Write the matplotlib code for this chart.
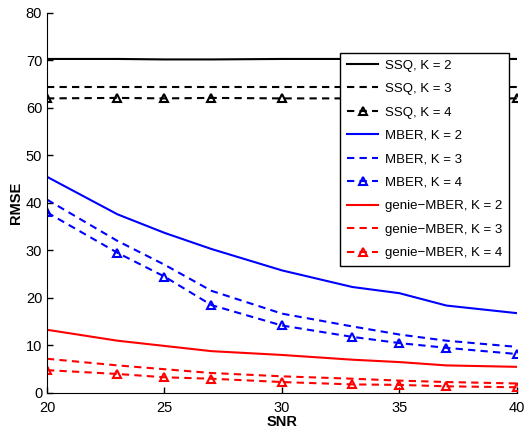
import matplotlib
matplotlib.use("Agg")
import matplotlib.pyplot as plt

plt.rcParams['font.family'] = ['Liberation Sans', 'DejaVu Sans']

snr = [20, 23, 25, 27, 30, 33, 35, 37, 40]

ssq_k2 = [70.3, 70.3, 70.2, 70.2, 70.3, 70.3, 70.3, 70.3, 70.3]
ssq_k3 = [64.5, 64.5, 64.5, 64.5, 64.5, 64.5, 64.5, 64.5, 64.5]
ssq_k4 = [62.0, 62.1, 62.0, 62.1, 62.0, 62.0, 62.0, 62.0, 62.0]

mber_k2 = [45.5, 37.6, 33.7, 30.3, 25.8, 22.3, 21.0, 18.4, 16.8]
mber_k3 = [40.7, 32.0, 27.0, 21.5, 16.7, 14.0, 12.3, 11.0, 9.7]
mber_k4 = [38.0, 29.5, 24.5, 18.5, 14.2, 11.8, 10.5, 9.5, 8.2]

genie_k2 = [13.3, 11.0, 9.9, 8.8, 8.0, 7.0, 6.5, 5.8, 5.5]
genie_k3 = [7.2, 5.8, 5.0, 4.2, 3.5, 3.0, 2.6, 2.3, 2.0]
genie_k4 = [4.8, 4.0, 3.3, 3.0, 2.3, 1.8, 1.7, 1.4, 1.2]

fig = plt.figure(figsize=(5.25, 4.29), dpi=100)
ax = fig.add_axes([0.0895, 0.084, 0.895, 0.886])

dash = (0, (3.5, 2.5))
tri = dict(marker='^', markersize=6, markerfacecolor='none', markeredgewidth=1.5)

# SSQ
ax.plot(snr, ssq_k2, color='k', lw=1.5, label='SSQ, K = 2')
ax.plot(snr, ssq_k3, color='k', lw=1.5, ls=dash, label='SSQ, K = 3')
ax.plot(snr, ssq_k4, color='k', lw=1.5, ls=dash, label='SSQ, K = 4', **tri)
# MBER
ax.plot(snr, mber_k2, color='#0000ff', lw=1.5, label='MBER, K = 2')
ax.plot(snr, mber_k3, color='#0000ff', lw=1.5, ls=dash, label='MBER, K = 3')
ax.plot(snr, mber_k4, color='#0000ff', lw=1.5, ls=dash, label='MBER, K = 4', **tri)
# genie-MBER
ax.plot(snr, genie_k2, color='#ff0000', lw=1.5, label='genie\u2212MBER, K = 2')
ax.plot(snr, genie_k3, color='#ff0000', lw=1.5, ls=dash, label='genie\u2212MBER, K = 3')
ax.plot(snr, genie_k4, color='#ff0000', lw=1.5, ls=dash, label='genie\u2212MBER, K = 4', **tri)

ax.set_xlim(20, 40)
ax.set_ylim(0, 80)
ax.set_xticks([20, 25, 30, 35, 40])
ax.set_yticks(range(0, 81, 10))
ax.tick_params(direction='in', length=4, labelsize=10.5, width=1)
ax.tick_params(axis='x', pad=6)
ax.spines['top'].set_visible(False)
ax.spines['right'].set_visible(False)
ax.set_xlabel('SNR', fontweight='bold', fontsize=10.5, labelpad=0)
ax.set_ylabel('RMSE', fontweight='bold', fontsize=10.5, labelpad=2)

leg = ax.legend(loc='upper right', bbox_to_anchor=(0.983, 0.895), borderaxespad=0,
                fontsize=9.5, fancybox=False, framealpha=1, edgecolor='k',
                handlelength=2.4, handletextpad=0.5, borderpad=0.5, labelspacing=0.85)
leg.get_frame().set_linewidth(1)

fig.savefig('out.png', dpi=100)
